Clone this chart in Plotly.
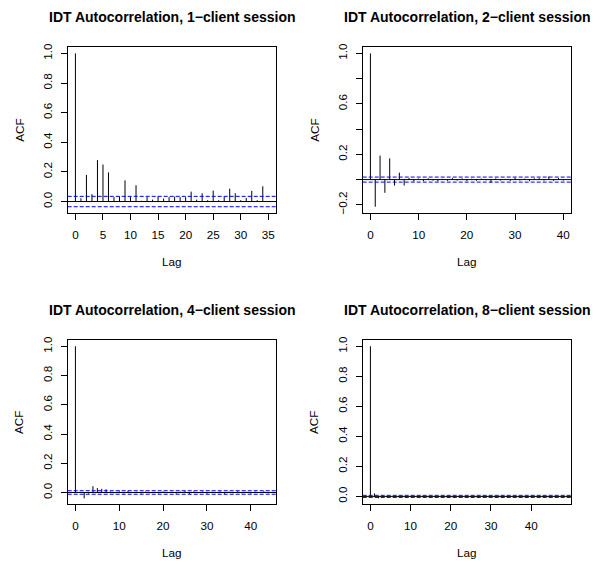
import plotly.graph_objects as go

# ---------------- data ----------------
titles = [
    "IDT Autocorrelation, 1\u2212client session",
    "IDT Autocorrelation, 2\u2212client session",
    "IDT Autocorrelation, 4\u2212client session",
    "IDT Autocorrelation, 8\u2212client session",
]

acf1 = [1.0, 0.022, 0.18, 0.05, 0.28, 0.25, 0.197, 0.03, 0.034, 0.143,
        0.03, 0.11, 0.005, 0.03, 0.013, 0.034, 0.02, 0.03, 0.033, 0.03,
        0.03, 0.067, 0.013, 0.056, 0.009, 0.074, 0.009, 0.033, 0.087, 0.056,
        0.009, 0.025, 0.072, 0.009, 0.103, 0.004]

acf2 = [1.0, -0.215, 0.19, -0.105, 0.168, -0.047, 0.055, -0.047, 0.013, -0.016,
        0.008, -0.012, 0.01, -0.008, -0.015, 0.006, -0.01, 0.012, -0.008, 0.009,
        -0.012, 0.007, -0.01, 0.008, -0.006, -0.025, 0.01, -0.008, 0.006, -0.01,
        0.015, -0.007, 0.008, -0.012, 0.01, 0.012, -0.008, 0.025, -0.01, 0.012,
        -0.008]

acf3 = [1.0, 0.004, -0.04, -0.008, 0.043, 0.03, 0.025, 0.022, 0.006, -0.005,
        0.008, -0.006, 0.01, -0.004, 0.005, -0.007, 0.006, -0.005, 0.004, -0.006,
        0.007, -0.004, 0.005, -0.008, 0.006, 0.009, -0.01, 0.007, -0.005, 0.006,
        -0.008, 0.005, -0.004, 0.007, -0.009, 0.006, -0.005, 0.008, -0.006, 0.005,
        -0.007, 0.006, -0.004, 0.008, -0.005]

acf4 = [1.0, 0.02, -0.013, 0.003, -0.002, 0.002, -0.003, 0.002, 0.003, -0.002,
        0.002, -0.003, 0.002, 0.003, -0.002, 0.002, -0.003, 0.002, -0.002, 0.003,
        0.002, -0.003, 0.002, -0.002, 0.003, -0.002, 0.002, -0.003, 0.002, 0.003,
        -0.002, 0.002, 0.004, -0.002, 0.002, -0.003, 0.002, -0.002, 0.003, 0.002,
        -0.003, 0.002, -0.002, 0.003, -0.002, 0.002, -0.003, 0.002, -0.002]

ci_levels = [0.035, 0.02, 0.012, 0.007]
series = [acf1, acf2, acf3, acf4]

xtick_vals = [[0, 5, 10, 15, 20, 25, 30, 35],
              [0, 10, 20, 30, 40],
              [0, 10, 20, 30, 40],
              [0, 10, 20, 30, 40]]
ytick_vals = [[0.0, 0.2, 0.4, 0.6, 0.8, 1.0],
              [-0.2, 0.0, 0.2, 0.4, 0.6, 0.8, 1.0],
              [0.0, 0.2, 0.4, 0.6, 0.8, 1.0],
              [0.0, 0.2, 0.4, 0.6, 0.8, 1.0]]
ytick_text = [["0.0", "0.2", "0.4", "0.6", "0.8", "1.0"],
              ["\u22120.2", "", "0.2", "", "0.6", "", "1.0"],
              ["0.0", "0.2", "0.4", "0.6", "0.8", "1.0"],
              ["0.0", "0.2", "0.4", "0.6", "0.8", "1.0"]]

# ---------------- layout geometry (screen pixels) ----------------
W, H = 602, 566
OFF = 8  # page body margin offset of the figure div
boxes = [  # left, right, top, bottom in screen px
    (67.7, 276.0, 43.7, 211.0),
    (362.7, 571.0, 43.7, 211.0),
    (67.7, 276.0, 339.7, 505.7),
    (362.7, 571.0, 339.7, 505.7),
]


def px(xs):
    return (xs - OFF) / W


def py(ys):
    return 1 - (ys - OFF) / H


FONT = "Liberation Sans, Arial, Helvetica, sans-serif"
BASE = 11.7

fig = go.Figure()
layout = dict(
    width=W, height=H,
    margin=dict(l=0, r=0, t=0, b=0),
    paper_bgcolor="white", plot_bgcolor="white",
    showlegend=False,
    font=dict(family=FONT, size=BASE, color="black"),
)
shapes = []
annotations = []

for i, (acf, ci) in enumerate(zip(series, ci_levels)):
    n = i + 1
    xa = "x" if n == 1 else f"x{n}"
    ya = "y" if n == 1 else f"y{n}"
    lags = list(range(len(acf)))
    xs, ys = [], []
    for lag, v in zip(lags, acf):
        xs += [lag, lag, None]
        ys += [0, v, None]
    fig.add_trace(go.Scatter(x=xs, y=ys, mode="lines",
                             line=dict(color="black", width=1),
                             xaxis=xa, yaxis=ya, hoverinfo="skip"))

    # R-style 4% extended ranges
    L = lags[-1]
    xr = [-0.04 * L, 1.04 * L]
    lo = min(min(acf), -ci)
    hi = max(max(acf), ci)
    ext = 0.04 * (hi - lo)
    yr = [lo - ext, hi + ext]

    l, r, t, b = boxes[i]
    xdom = [px(l), px(r)]
    ydom = [py(b), py(t)]

    layout["xaxis" if n == 1 else f"xaxis{n}"] = dict(
        domain=xdom, range=xr, anchor=ya,
        showgrid=False, zeroline=False,
        showline=True, mirror=True, linecolor="black", linewidth=1,
        ticks="outside", ticklen=6, tickwidth=1, tickcolor="black",
        tickvals=xtick_vals[i], ticktext=[str(v) for v in xtick_vals[i]],
        tickfont=dict(size=BASE, family=FONT, color="black"),
        ticklabelstandoff=5,
    )
    layout["yaxis" if n == 1 else f"yaxis{n}"] = dict(
        domain=ydom, range=yr, anchor=xa,
        showgrid=False, zeroline=False,
        showline=True, mirror=True, linecolor="black", linewidth=1,
        ticks="outside", ticklen=6, tickwidth=1, tickcolor="black",
        tickvals=ytick_vals[i], ticktext=ytick_text[i],
        tickangle=-90,
        tickfont=dict(size=BASE, family=FONT, color="black"),
        ticklabelstandoff=4,
    )

    # zero line and confidence bounds
    shapes.append(dict(type="line", xref=f"{xa} domain", yref=ya,
                       x0=0, x1=1, y0=0, y1=0,
                       line=dict(color="black", width=1)))
    for s in (ci, -ci):
        shapes.append(dict(type="line", xref=f"{xa} domain", yref=ya,
                           x0=0, x1=1, y0=s, y1=s,
                           line=dict(color="#0000FF", width=1, dash="4px,2px")))

    cx = px((l + r) / 2)
    # title
    annotations.append(dict(text=f"<b>{titles[i]}</b>", x=cx, y=py(t - 31),
                            xref="paper", yref="paper", showarrow=False,
                            xanchor="center", yanchor="middle",
                            font=dict(size=14, family=FONT, color="black")))
    # x title
    annotations.append(dict(text="Lag", x=cx, y=py(b + 49),
                            xref="paper", yref="paper", showarrow=False,
                            xanchor="center", yanchor="middle",
                            font=dict(size=BASE, family=FONT, color="black")))
    # y title
    annotations.append(dict(text="ACF", x=px(l - 49), y=py((t + b) / 2),
                            xref="paper", yref="paper", showarrow=False,
                            xanchor="center", yanchor="middle", textangle=-90,
                            font=dict(size=BASE, family=FONT, color="black")))

layout["shapes"] = shapes
layout["annotations"] = annotations
fig.update_layout(**layout)
fig.write_html("out.html")
